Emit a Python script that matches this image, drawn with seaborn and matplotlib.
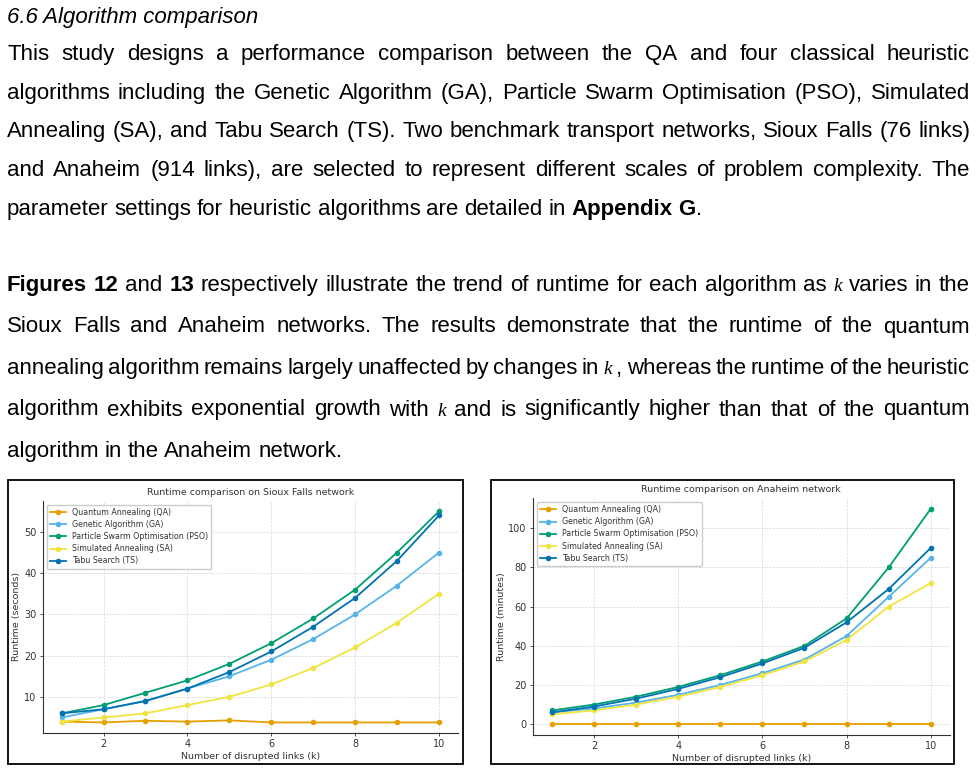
import matplotlib
matplotlib.use("Agg")
import matplotlib.pyplot as plt
from matplotlib.patches import Rectangle
import seaborn as sns

W, H = 977, 771

# chart data
k_values = [1, 2, 3, 4, 5, 6, 7, 8, 9, 10]
algorithms = ["Quantum Annealing (QA)", "Genetic Algorithm (GA)",
              "Particle Swarm Optimisation (PSO)", "Simulated Annealing (SA)",
              "Tabu Search (TS)"]
colors = ["#E69F00", "#56B4E9", "#009E73", "#F0E442", "#0072B2"]

sioux_qa = [4.0, 3.8, 4.2, 4.0, 4.3, 3.8, 3.8, 3.8, 3.8, 3.8]
sioux_ga = [5, 7, 9, 12, 15, 19, 24, 30, 37, 45]
sioux_pso = [6, 8, 11, 14, 18, 23, 29, 36, 45, 55]
sioux_sa = [4, 5, 6, 8, 10, 13, 17, 22, 28, 35]
sioux_ts = [6, 7, 9, 12, 16, 21, 27, 34, 43, 54]

anaheim_qa = [0.1, 0.1, 0.1, 0.1, 0.1, 0.1, 0.1, 0.1, 0.1, 0.1]
anaheim_ga = [6, 8, 11, 15, 20, 26, 33, 45, 65, 85]
anaheim_pso = [7, 10, 14, 19, 25, 32, 40, 54, 80, 110]
anaheim_sa = [5, 7, 10, 14, 19, 25, 32, 43, 60, 72]
anaheim_ts = [6, 9, 13, 18, 24, 31, 39, 52, 69, 90]

# page text: each line is a list of (text, style) runs
heading = "6.6 Algorithm comparison"
para1 = [
    [("This study designs a performance comparison between the QA and four classical heuristic", "r")],
    [("algorithms including the Genetic Algorithm (GA), Particle Swarm Optimisation (PSO), Simulated", "r")],
    [("Annealing (SA), and Tabu Search (TS). Two benchmark transport networks, Sioux Falls (76 links)", "r")],
    [("and Anaheim (914 links), are selected to represent different scales of problem complexity. The", "r")],
    [("parameter settings for heuristic algorithms are detailed in ", "r"), ("Appendix G", "b"), (".", "r")],
]
para2 = [
    [("Figures 12", "b"), (" and ", "r"), ("13", "b"),
     (" respectively illustrate the trend of runtime for each algorithm as ", "r"), ("k", "k"),
     (" varies in the", "r")],
    [("Sioux Falls and Anaheim networks. The results demonstrate that the runtime of the quantum", "r")],
    [("annealing algorithm remains largely unaffected by changes in ", "r"), ("k", "k"),
     (" , whereas the runtime of the heuristic", "r")],
    [("algorithm exhibits exponential growth with ", "r"), ("k", "k"),
     (" and is significantly higher than that of the quantum", "r")],
    [("algorithm in the Anaheim network.", "r")],
]

SANS = "Liberation Sans"
FS = 16
STYLES = {
    "r": dict(family=SANS, fontsize=FS),
    "b": dict(family=SANS, fontsize=FS, weight="bold"),
    "i": dict(family=SANS, fontsize=FS, style="italic"),
    "k": dict(family="Liberation Serif", fontsize=14, style="italic"),
}

fig = plt.figure(figsize=(W / 100, H / 100), dpi=100)
renderer = fig.canvas.get_renderer()


def split_words(runs):
    words, cur = [], []
    for txt, st in runs:
        parts = txt.split(" ")
        for i, p in enumerate(parts):
            if i > 0 and cur:
                words.append(cur)
                cur = []
            if p:
                cur.append((p, st))
    if cur:
        words.append(cur)
    return words


def put_line(runs, baseline, justify=True, left=7, right=970):
    placed = []
    for word in split_words(runs):
        pieces = []
        for txt, st in word:
            t = fig.text(0, 1 - baseline / H, txt, va="baseline", ha="left",
                         color="black", **STYLES[st])
            pieces.append((t, t.get_window_extent(renderer).width))
        placed.append(pieces)
    widths = [sum(w for _, w in p) for p in placed]
    if justify and len(placed) > 1:
        gap = (right - left - sum(widths)) / (len(placed) - 1)
    else:
        gap = 0.26 * FS * 100 / 72
    x = left
    for pieces, w in zip(placed, widths):
        cx = x
        for t, pw in pieces:
            t.set_x(cx / W)
            cx += pw
        x += w + gap


fig.text(7 / W, 1 - 22.7 / H, heading, va="baseline", ha="left", color="black",
         **STYLES["i"])
for i, line in enumerate(para1):
    put_line(line, 60 + 38.7 * i, justify=(i < len(para1) - 1))
for i, line in enumerate(para2):
    put_line(line, 291 + 41.5 * i, justify=(i < len(para2) - 1))

# chart frames
for x0, x1 in [(8.3, 463.3), (491.3, 954)]:
    fig.add_artist(Rectangle((x0 / W, 1 - 764 / H), (x1 - x0) / W, (764 - 479.6) / H,
                             transform=fig.transFigure, fill=False,
                             edgecolor="black", linewidth=1.3))

TXT = "#333333"


def draw_chart(ax, series, title, ylabel):
    for name, vals, c in zip(algorithms, series, colors):
        sns.lineplot(x=k_values, y=vals, ax=ax, label=name, color=c,
                     marker="o", markersize=4, linewidth=1.3,
                     markeredgewidth=0)
    ax.set_title(title, fontsize=6.8, color=TXT, pad=4)
    ax.set_xlabel("Number of disrupted links (k)", fontsize=6.8, color=TXT, labelpad=2)
    ax.set_ylabel(ylabel, fontsize=6.8, color=TXT, labelpad=2)
    ax.set_xticks([2, 4, 6, 8, 10])
    ax.tick_params(labelsize=7, labelcolor=TXT, length=2.5, width=0.6,
                   color=TXT, pad=2)
    ax.grid(True, linestyle="--", linewidth=0.5, color="#cccccc", alpha=0.8)
    for s in ["top", "right"]:
        ax.spines[s].set_visible(False)
    for s in ["left", "bottom"]:
        ax.spines[s].set_color(TXT)
        ax.spines[s].set_linewidth(0.8)
    leg = ax.legend(loc="upper left", fontsize=5.7, frameon=True, fancybox=True,
                    edgecolor="#cccccc", framealpha=1, labelspacing=0.4)
    for t in leg.get_texts():
        t.set_color(TXT)


ax1 = fig.add_axes([42.7 / W, 1 - 733 / H, (457.9 - 42.7) / W, (733 - 500.7) / H])
draw_chart(ax1, [sioux_qa, sioux_ga, sioux_pso, sioux_sa, sioux_ts],
           "Runtime comparison on Sioux Falls network", "Runtime (seconds)")

ax2 = fig.add_axes([533 / W, 1 - 734.7 / H, (949.7 - 533) / W, (734.7 - 498) / H])
draw_chart(ax2, [anaheim_qa, anaheim_ga, anaheim_pso, anaheim_sa, anaheim_ts],
           "Runtime comparison on Anaheim network", "Runtime (minutes)")

fig.savefig("out.png", dpi=100)
